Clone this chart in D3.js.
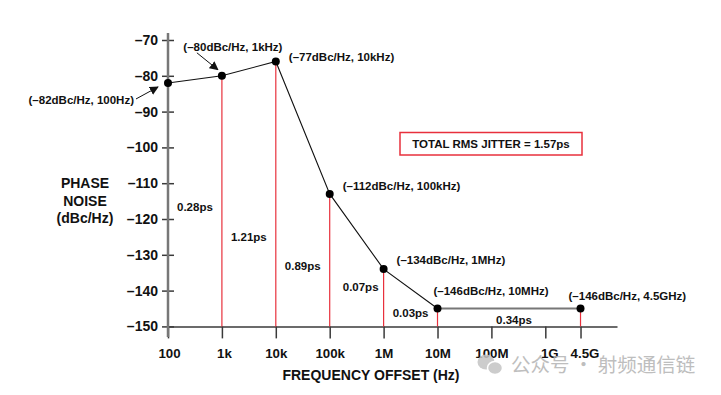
<!DOCTYPE html>
<meta charset="utf-8">
<html>
<head>
<style>
  body { margin: 0; background: #fff; }
  svg text { font-family: "Liberation Sans", Arial, sans-serif; font-weight: bold; fill: #111; }
  .axis text { font-size: 14px; }
  .note { font-size: 11.5px; }
</style>
</head>
<script src="https://d3js.org/d3.v7.min.js"></script>
<body>
<div id="vis"></div>

<script>
  // data
  var freqs = [100, 1e3, 1e4, 1e5, 1e6, 1e7, 4.5e9];
  var noise = [-82, -80, -76, -113, -134, -145, -145];
  var pointLabels = ["(\u201382dBc/Hz, 100Hz)", "(\u201380dBc/Hz, 1kHz)", "(\u201377dBc/Hz, 10kHz)",
    "(\u2013112dBc/Hz, 100kHz)", "(\u2013134dBc/Hz, 1MHz)", "(\u2013146dBc/Hz, 10MHz)", "(\u2013146dBc/Hz, 4.5GHz)"];
  var jitter = ["0.28ps", "1.21ps", "0.89ps", "0.07ps", "0.03ps", "0.34ps"];
  var xTicks = [1e2, 1e3, 1e4, 1e5, 1e6, 1e7, 1e8, 1e9, 4.5e9];
  var xTickLabels = ["100", "1k", "10k", "100k", "1M", "10M", "100M", "1G", "4.5G"];
  var yTicks = [-70, -80, -90, -100, -110, -120, -130, -140, -150];
  var totalJitter = "TOTAL RMS JITTER = 1.57ps";

  // label layout (offsets from the point, px)
  var labelPos = [
    {dx: -34, dy: 17, anchor: "end"},
    {dx: 11, dy: -29, anchor: "middle"},
    {dx: 13, dy: -5, anchor: "start"},
    {dx: 13, dy: -8, anchor: "start"},
    {dx: 13, dy: -9, anchor: "start"},
    {dx: -4, dy: -18, anchor: "start"},
    {dx: -12, dy: -13, anchor: "start"}
  ];
  // jitter label heights (in dB units) and x nudges
  var jitterY = [-116.6, -125, -133.1, -139, -146.3, -148.2];
  var jitterDx = [0, 0, 0, 4, 0, 5];
  var xLabelDx = [1, 2, 0, 0, 0, 0, 0, 4, 4];

  var width = 721, height = 395;

  var x = d3.scaleLog().domain([1e2, Math.pow(10, 10.33)]).range([168, 617]);
  var y = d3.scaleLinear().domain([-70, -150]).range([40, 326.4]);

  var svg = d3.select("#vis").append("svg")
    .attr("width", width)
    .attr("height", height);

  // x axis
  var xAxis = svg.append("g")
    .attr("class", "axis")
    .attr("transform", "translate(0," + y(-150) + ")")
    .call(d3.axisBottom(x).tickValues(xTicks)
      .tickFormat(function(d, i) { return xTickLabels[i]; })
      .tickSizeInner(12).tickSizeOuter(0).tickPadding(10));
  xAxis.select(".domain").attr("stroke", "#3a3a3a").attr("stroke-width", 1.5);
  xAxis.selectAll(".tick line").attr("stroke", "#3a3a3a").attr("stroke-width", 1.5);
  xAxis.selectAll(".tick text")
    .attr("fill", "#111")
    .style("font-size", "13.3px")
    .attr("dx", function(d, i) { return xLabelDx[i]; });

  // y axis, ticks on both sides
  var yAxis = svg.append("g")
    .attr("class", "axis")
    .attr("transform", "translate(168,0)")
    .call(d3.axisLeft(y).tickValues(yTicks)
      .tickFormat(function(d) { return "\u2013" + Math.abs(d); })
      .tickSizeOuter(0));
  yAxis.select(".domain").remove();
  yAxis.append("line")
    .attr("x1", 0).attr("x2", 0)
    .attr("y1", 33).attr("y2", 337)
    .attr("stroke", "#777").attr("stroke-width", 2.5);
  yAxis.selectAll(".tick line").attr("x1", -6).attr("x2", 6)
    .attr("stroke", "#3a3a3a").attr("stroke-width", 1.5);
  yAxis.selectAll(".tick text").attr("x", -10).attr("fill", "#111");

  // red drop lines
  svg.selectAll(".drop")
    .data(freqs.slice(1))
    .enter().append("line")
    .attr("class", "drop")
    .attr("x1", function(d) { return x(d); })
    .attr("x2", function(d) { return x(d); })
    .attr("y1", function(d, i) { return y(noise[i + 1]); })
    .attr("y2", y(-150))
    .attr("stroke", "#e8303c")
    .attr("stroke-width", 1.2);

  var pts = freqs.map(function(f, i) { return [f, noise[i]]; });
  var line = d3.line()
    .x(function(d) { return x(d[0]); })
    .y(function(d) { return y(d[1]); });

  svg.append("path")
    .datum(pts.slice(0, 6))
    .attr("d", line)
    .attr("fill", "none")
    .attr("stroke", "#111")
    .attr("stroke-width", 1.1);

  svg.append("path")
    .datum(pts.slice(5))
    .attr("d", line)
    .attr("fill", "none")
    .attr("stroke", "#777")
    .attr("stroke-width", 2.2);

  svg.selectAll(".pt")
    .data(pts)
    .enter().append("circle")
    .attr("class", "pt")
    .attr("cx", function(d) { return x(d[0]); })
    .attr("cy", function(d) { return y(d[1]); })
    .attr("r", 4)
    .attr("fill", "#000");

  svg.selectAll(".plabel")
    .data(pts)
    .enter().append("text")
    .attr("class", "note plabel")
    .attr("x", function(d, i) { return x(d[0]) + labelPos[i].dx; })
    .attr("y", function(d, i) { return y(d[1]) + labelPos[i].dy; })
    .attr("dy", "0.35em")
    .attr("text-anchor", function(d, i) { return labelPos[i].anchor; })
    .text(function(d, i) { return pointLabels[i]; });

  // arrows for the first two labels
  svg.append("defs").append("marker")
    .attr("id", "arrow")
    .attr("viewBox", "0 0 10 10")
    .attr("refX", 9).attr("refY", 5)
    .attr("markerWidth", 9).attr("markerHeight", 9)
    .attr("markerUnits", "userSpaceOnUse")
    .attr("orient", "auto")
    .append("path")
    .attr("d", "M0,0 L10,5 L0,10 z")
    .attr("fill", "#111");

  var p0 = [x(freqs[0]), y(noise[0])], p1 = [x(freqs[1]), y(noise[1])];
  svg.append("line")
    .attr("x1", p0[0] - 32).attr("y1", p0[1] + 16)
    .attr("x2", p0[0] - 10).attr("y2", p0[1] + 4)
    .attr("stroke", "#111").attr("stroke-width", 1)
    .attr("marker-end", "url(#arrow)");
  svg.append("line")
    .attr("x1", p1[0] - 25).attr("y1", p1[1] - 23)
    .attr("x2", p1[0] - 4).attr("y2", p1[1] - 6)
    .attr("stroke", "#111").attr("stroke-width", 1)
    .attr("marker-end", "url(#arrow)");

  // jitter per interval
  svg.selectAll(".jit")
    .data(jitter)
    .enter().append("text")
    .attr("class", "note jit")
    .attr("x", function(d, i) { return x(Math.sqrt(freqs[i] * freqs[i + 1])) + jitterDx[i]; })
    .attr("y", function(d, i) { return y(jitterY[i]); })
    .attr("dy", "0.35em")
    .attr("text-anchor", "middle")
    .text(function(d) { return d; });

  // total box
  svg.append("rect")
    .attr("x", 400).attr("y", 132.5)
    .attr("width", 182).attr("height", 22.5)
    .attr("fill", "none")
    .attr("stroke", "#e8303c")
    .attr("stroke-width", 1.5);
  svg.append("text")
    .attr("class", "note")
    .attr("x", 491).attr("y", 144)
    .attr("dy", "0.35em")
    .attr("text-anchor", "middle")
    .text(totalJitter);

  // axis titles
  svg.append("text")
    .attr("x", 371).attr("y", 375)
    .attr("dy", "0.35em")
    .attr("text-anchor", "middle")
    .style("font-size", "14px")
    .text("FREQUENCY OFFSET (Hz)");

  svg.append("text")
    .attr("text-anchor", "middle")
    .style("font-size", "14px")
    .selectAll("tspan")
    .data(["PHASE", "NOISE", "(dBc/Hz)"])
    .enter().append("tspan")
    .attr("x", 85)
    .attr("y", function(d, i) { return 183.5 + i * 17.5; })
    .attr("dy", "0.35em")
    .text(function(d) { return d; });

  // watermark
  var wm = svg.append("g").attr("opacity", 0.85);
  wm.append("ellipse").attr("cx", 486).attr("cy", 362).attr("rx", 8.5).attr("ry", 7.5).attr("fill", "#c4c4c4");
  wm.append("ellipse").attr("cx", 495).attr("cy", 368).attr("rx", 7.5).attr("ry", 6.5).attr("fill", "#c4c4c4")
    .attr("stroke", "#fff").attr("stroke-width", 1.5);
  wm.append("text")
    .attr("x", 511).attr("y", 365)
    .attr("dy", "0.35em")
    .style("font-family", "'Noto Sans CJK SC', sans-serif")
    .style("font-weight", "normal")
    .style("font-size", "19.5px")
    .style("fill", "#b3b3b3")
    .text("公众号 · 射频通信链");
</script>
</body>
</html>
